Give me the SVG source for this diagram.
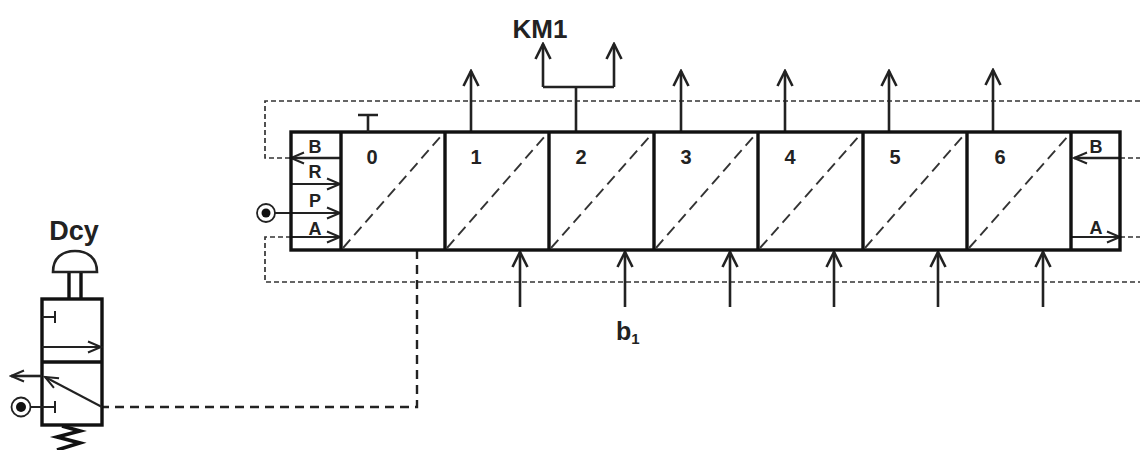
<svg xmlns="http://www.w3.org/2000/svg" width="1140" height="450" viewBox="0 0 1140 450">
<style>
text{font-family:"Liberation Sans",Arial,sans-serif;font-weight:bold;fill:#222}
.lbl{font-size:18px;text-anchor:middle}
.num{font-size:20px;text-anchor:middle}
.big{text-anchor:middle}
.box{fill:none;stroke:#111;stroke-width:3.4}
.up{fill:none;stroke:#222;stroke-width:2.6}
.thin{fill:none;stroke:#222;stroke-width:2}
.dash{fill:none;stroke:#333;stroke-width:1.7;stroke-dasharray:5 3}
.diag{fill:none;stroke:#333;stroke-width:1.9;stroke-dasharray:11 6}
.ctl{fill:none;stroke:#222;stroke-width:2.4;stroke-dasharray:9 6}
</style>
<defs>
<marker id="a" viewBox="-17 -9 19 18" refX="0" refY="0" markerWidth="19" markerHeight="18" markerUnits="userSpaceOnUse" orient="auto">
<path d="M-15,-7.5 L0,0 L-15,7.5" fill="none" stroke="#222" stroke-width="2.6"/>
</marker>
<marker id="b" viewBox="-14 -7 16 14" refX="0" refY="0" markerWidth="16" markerHeight="14" markerUnits="userSpaceOnUse" orient="auto">
<path d="M-13,-5.5 L0,0 L-13,5.5" fill="none" stroke="#222" stroke-width="2"/>
</marker>
</defs>
<rect width="1140" height="450" fill="#fff"/>
<g id="connectors">
<path class="dash" d="M1140,101 H265 V158 H291"/>
<path class="dash" d="M291,237 H265 V282 H1140"/>
<path class="dash" d="M1120,158 H1140"/>
<path class="dash" d="M1120,237 H1140"/>
<path class="ctl" d="M417,250 V407 H103"/>
<path class="up" d="M471,132 V71" marker-end="url(#a)"/>
<path class="up" d="M681,132 V71" marker-end="url(#a)"/>
<path class="up" d="M785,132 V71" marker-end="url(#a)"/>
<path class="up" d="M889,132 V71" marker-end="url(#a)"/>
<path class="up" d="M993,132 V70" marker-end="url(#a)"/>
<path class="up" d="M543,87 V44" marker-end="url(#a)"/>
<path class="up" d="M614,87 V44" marker-end="url(#a)"/>
<path class="up" d="M520,307 V252" marker-end="url(#a)"/>
<path class="up" d="M625,307 V252" marker-end="url(#a)"/>
<path class="up" d="M730,307 V252" marker-end="url(#a)"/>
<path class="up" d="M834,307 V252" marker-end="url(#a)"/>
<path class="up" d="M938,307 V252" marker-end="url(#a)"/>
<path class="up" d="M1043,307 V252" marker-end="url(#a)"/>
<path class="up" d="M340,158 H291" marker-end="url(#b)"/>
<path class="thin" d="M291,184 H340" marker-end="url(#b)"/>
<path class="thin" d="M275,213 H340" marker-end="url(#b)"/>
<path class="thin" d="M291,237 H340" marker-end="url(#b)"/>
<path class="up" d="M1120,158 H1074" marker-end="url(#b)"/>
<path class="thin" d="M1071,237 H1120" marker-end="url(#b)"/>
<path class="up" d="M576,132 V87 M543,87 H614"/>
</g>
<g id="sequencer">
<rect class="box" x="291" y="132" width="829" height="118"/>
<path class="box" d="M341,132 V250 M445,132 V250 M549,132 V250 M654,132 V250 M758,132 V250 M863,132 V250 M967,132 V250 M1071,132 V250"/>
<path class="diag" d="M343,248 L442,135 M447,248 L546,135 M551,248 L651,135 M656,248 L755,135 M760,248 L860,135 M865,248 L964,135 M969,248 L1069,135"/>
<path class="up" d="M368,132 V115 M358,115 H378"/>
<text class="lbl" x="315" y="153">B</text>
<text class="lbl" x="315" y="178">R</text>
<text class="lbl" x="315" y="207">P</text>
<text class="lbl" x="315" y="235">A</text>
<text class="lbl" x="1096" y="153">B</text>
<text class="lbl" x="1096" y="234">A</text>
<text class="num" x="372" y="164">0</text>
<text class="num" x="476" y="164">1</text>
<text class="num" x="581" y="164">2</text>
<text class="num" x="686" y="164">3</text>
<text class="num" x="790" y="164">4</text>
<text class="num" x="895" y="164">5</text>
<text class="num" x="1000" y="164">6</text>
</g>
<g id="supply-top">
<circle cx="266" cy="213" r="9" fill="#fff" stroke="#222" stroke-width="1.8"/>
<circle cx="266" cy="213" r="4.5" fill="#111"/>
</g>
<g id="km1-label"><text class="big" x="540" y="38" font-size="26">KM1</text></g>
<g id="b1-label"><text x="616" y="340" font-size="25">b<tspan font-size="15" dy="4">1</tspan></text></g>
<g id="dcy-valve">
<text class="big" x="74" y="240" font-size="27">Dcy</text>
<path d="M53,272 C53,258 62,251 75,251 C88,251 97,258 97,272 Z" fill="#fff" stroke="#222" stroke-width="2.6"/>
<path class="box" d="M69,273 V299 M81,273 V299"/>
<rect class="box" x="42" y="299" width="60" height="126"/>
<path class="box" d="M42,362 H102"/>
<path class="thin" d="M42,317 H55 M55,311 V323 M30,407 H55 M55,401 V413"/>
<path class="thin" d="M42,347 H101" marker-end="url(#b)"/>
<path class="up" d="M42,376 H11" marker-end="url(#b)"/>
<path class="thin" d="M102,407 L45,377" marker-end="url(#b)"/>
<circle cx="21" cy="407" r="9.5" fill="#fff" stroke="#222" stroke-width="1.8"/>
<circle cx="21" cy="407" r="5" fill="#111"/>
<path d="M62,426 L80,431 L57,437 L80,443 L57,450" fill="none" stroke="#111" stroke-width="3.6"/>
</g>
</svg>
